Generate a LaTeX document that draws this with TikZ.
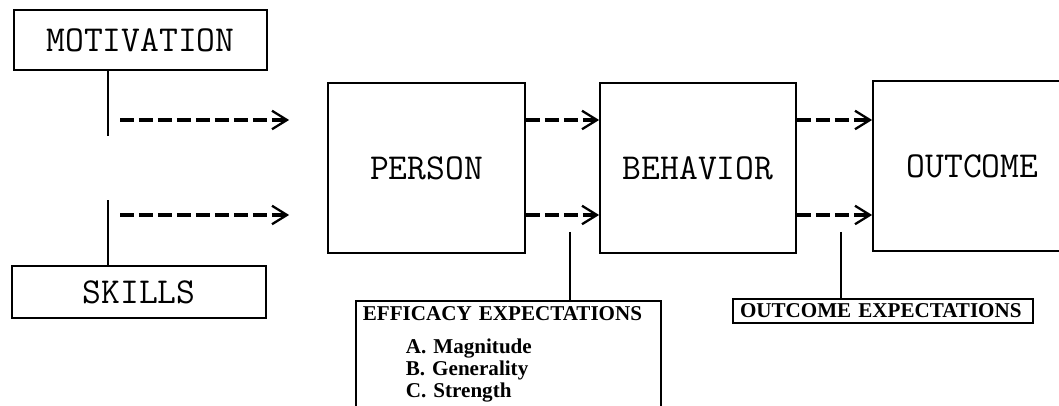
\documentclass[tikz,border=0pt]{standalone}
\usepackage{fontspec}
\usepackage{tikz}
\usetikzlibrary{arrows.meta, positioning}
\newfontfamily\expfont{Liberation Serif}
\tikzset{
    % Box styles - plain black frames
    factor/.style={
        rectangle,
        draw=black,
        line width=1pt,
        align=center,
        font=\ttfamily\fontsize{20.8}{24}\selectfont
    },
    expectation/.style={
        rectangle,
        draw=black,
        line width=1pt,
        inner xsep=0.14cm,
        align=left,
        font=\expfont\bfseries\fontsize{12}{12.5}\selectfont
    },
    % Line styles - solid stems, dashed arrows
    stem/.style={
        line width=1.3pt,
        draw=black
    },
    flow/.style={
        -{Straight Barb[length=8.5pt, width=10.5pt, line width=1.3pt]},
        line width=1.8pt,
        dash pattern=on 8pt off 2.8pt,
        draw=black
    }
}

\begin{document}
\begin{tikzpicture}
    \useasboundingbox (0,0) rectangle (21.18,8.12);

    % Inputs
    \node[factor, minimum width=5.06cm, minimum height=1.2cm] (motivation) at (2.81,7.32) {MOTIVATION};
    \node[factor, minimum width=5.08cm, minimum height=1.04cm] (skills) at (2.78,2.28) {SKILLS};

    % Main chain
    \node[factor, minimum width=3.94cm, minimum height=3.4cm] (person) at (8.53,4.76) {PERSON};
    \node[factor, minimum width=3.92cm, minimum height=3.4cm] (behavior) at (13.96,4.76) {BEHAVIOR};
    \node[factor, minimum width=3.98cm, minimum height=3.4cm] (outcome) at (19.45,4.8) {OUTCOME};

    % Expectations
    \node[expectation, text width=5.82cm, inner ysep=3.4pt, anchor=north west] (efficacy) at (7.1,2.12) {EFFICACY EXPECTATIONS\\[6pt]
        \hspace*{0.86cm}A.\ Magnitude\\
        \hspace*{0.86cm}B.\ Generality\\
        \hspace*{0.86cm}C.\ Strength\rule[-1cm]{0pt}{0pt}};
    \node[expectation, text width=5.72cm, inner ysep=0pt, minimum height=0.48cm] (outexp) at (17.66,1.9) {OUTCOME EXPECTATIONS};

    % Free line ends
    \coordinate (motfoot) at (2.16,5.4);
    \coordinate (skilltop) at (2.16,4.12);
    \coordinate (motstart) at (2.4,5.72);
    \coordinate (skillstart) at (2.4,3.82);
    \coordinate (effin) at (11.4,3.48);
    \coordinate (outin) at (16.82,3.48);

    % Stems
    \draw[stem] (motfoot |- motivation.south) -- (motfoot);
    \draw[stem] (skilltop |- skills.north) -- (skilltop);
    \draw[stem] (effin) -- (effin |- efficacy.north);
    \draw[stem] (outin) -- (outin |- outexp.north);

    % Dashed arrows
    \draw[flow, shorten >=0.76cm] (motstart) -- (motstart -| person.west);
    \draw[flow, shorten >=0.76cm] (skillstart) -- (skillstart -| person.west);
    \draw[flow] (person.east |- motstart) -- (behavior.west |- motstart);
    \draw[flow] (person.east |- skillstart) -- (behavior.west |- skillstart);
    \draw[flow] (behavior.east |- motstart) -- (outcome.west |- motstart);
    \draw[flow] (behavior.east |- skillstart) -- (outcome.west |- skillstart);
\end{tikzpicture}
\end{document}
